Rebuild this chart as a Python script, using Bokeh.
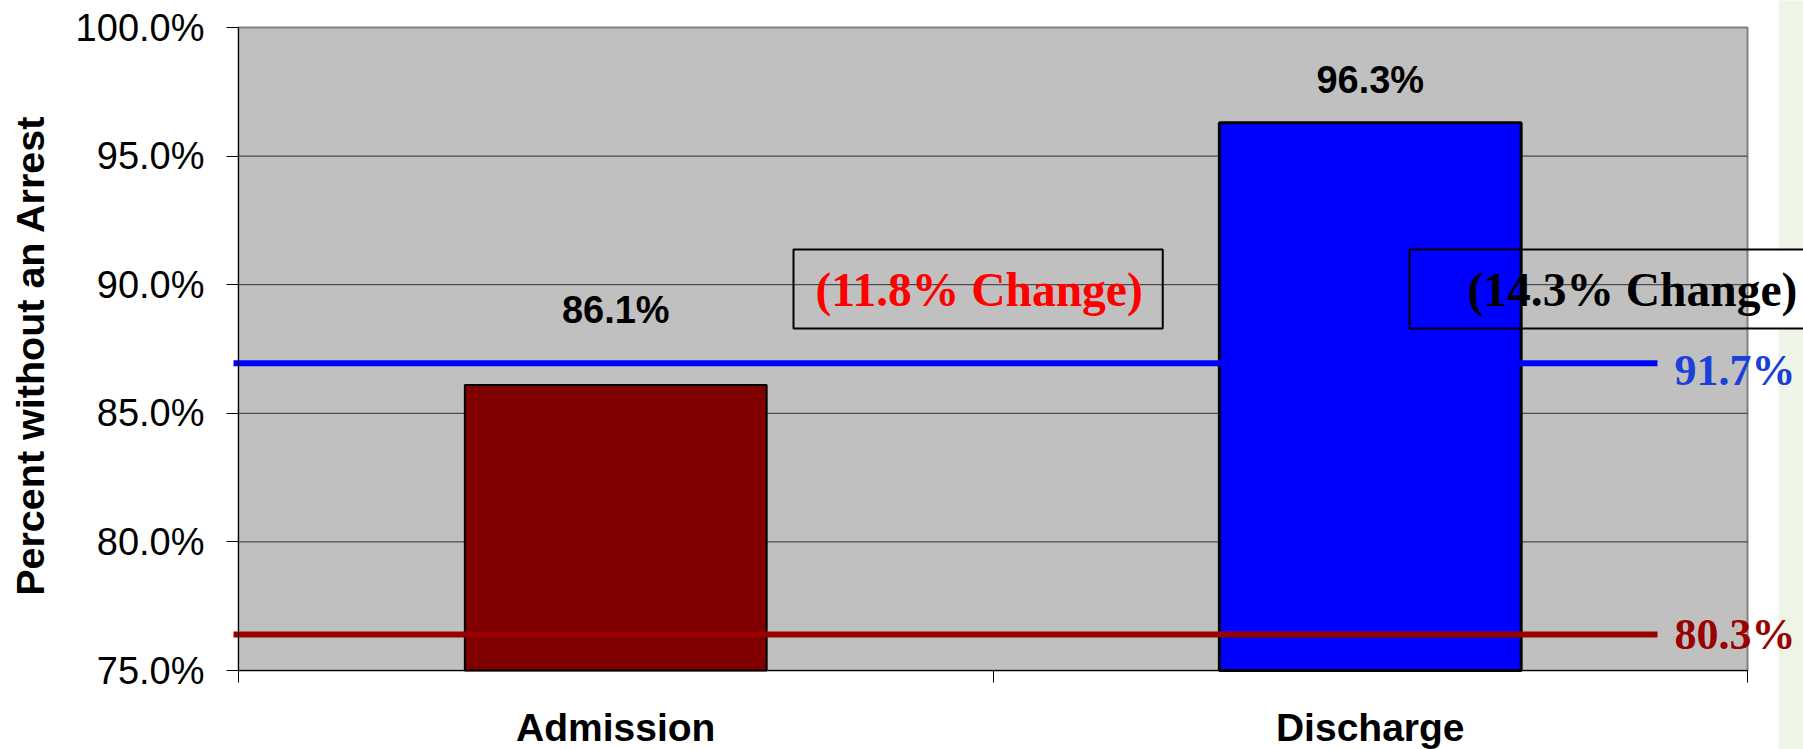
import math
from bokeh.plotting import figure
from bokeh.models import (Range1d, FixedTicker, PrintfTickFormatter, Label,
                          ColumnDataSource)
from bokeh.embed import file_html
from bokeh.resources import INLINE
from bokeh.core.properties import value

# ---------------- data ----------------
categories = ["Admission", "Discharge"]
pct_without_arrest = [86.1, 96.3]
bar_value_labels = ["86.1%", "96.3%"]
reference_levels = [86.95, 76.4]
reference_labels = ["91.7%", "80.3%"]
change_labels = ["(11.8% Change)", "(14.3% Change)"]
y_tick_values = [75, 80, 85, 90, 95, 100]
y_grid_values = [80, 85, 90, 95]
y_axis_title = "Percent without an Arrest"

# ---------------- styles / layout ----------------
BAR_COLORS = ["#800000", "#0000FF"]
BAR_LINE_WIDTHS = [2, 3]
REF_LINE_COLORS = ["#0000FF", "#990000"]
REF_TEXT_COLORS = ["#1A40D8", "#990000"]
CHANGE_COLORS = ["#FF0000", "#000000"]
SANS = "Liberation Sans"
SERIF = "Liberation Serif"

W, H = 1803, 749
PL, PT, PR, PB = 238, 27, 1747, 670      # plot-area edges in pixels
Y0, Y1 = 75, 100
X0, X1 = 0, len(categories)
ppx = (PR - PL) / (X1 - X0)
ppy = (PB - PT) / (Y1 - Y0)


def dx(fx):
    return X0 + (fx - PL) / ppx


def dy(fy):
    return Y1 - (fy - PT) / ppy


p = figure(width=W, height=H, output_backend="svg", toolbar_location=None,
           x_range=Range1d(dx(0), dx(W)), y_range=Range1d(dy(H), dy(0)),
           min_border_left=0, min_border_top=0,
           min_border_right=0, min_border_bottom=0)

p.background_fill_color = "#FFFFFF"
p.border_fill_color = "#FFFFFF"
p.outline_line_color = None

# grey plot area
p.quad(left=[X0], right=[X1], bottom=[Y0], top=[Y1], level="image",
       fill_color="#C0C0C0", line_color="#808080", line_width=2)

# light green side panel (interrupted by the text box)
p.quad(left=[dx(1778)] * 2, right=[dx(W + 20)] * 2,
       bottom=[dy(249), dy(H + 20)], top=[dy(-20), dy(328)], level="image",
       fill_color="#EEF5E6", line_color=None)

# horizontal grid lines inside the plot area
p.segment(x0=[X0] * len(y_grid_values), x1=[X1] * len(y_grid_values),
          y0=y_grid_values, y1=y_grid_values, level="underlay",
          line_color="#303030", line_width=1)
p.xgrid.visible = False
p.ygrid.visible = False

# y axis drawn at x = 0
p.yaxis.fixed_location = X0
p.yaxis.ticker = FixedTicker(ticks=y_tick_values)
p.yaxis.bounds = (Y0, Y1)
p.yaxis.formatter = PrintfTickFormatter(format="%.1f%%")
p.yaxis.major_tick_out = 12
p.yaxis.major_tick_in = 0
p.yaxis.minor_tick_line_color = None
p.yaxis.major_tick_line_color = "#000000"
p.yaxis.axis_line_color = "#000000"
p.yaxis.major_label_text_font = SANS
p.yaxis.major_label_text_font_size = "38px"
p.yaxis.major_label_text_color = "#000000"
p.yaxis.major_label_standoff = 22

# x axis drawn at y = 75, ticks at category boundaries, labels at centres
centres = [i + 0.5 for i in range(len(categories))]
p.xaxis.fixed_location = Y0
p.xaxis.bounds = (X0, X1)
p.xaxis.ticker = FixedTicker(ticks=centres, minor_ticks=list(range(X0, X1 + 1)))
p.xaxis.major_label_overrides = {c: cat for c, cat in zip(centres, categories)}
p.xaxis.major_tick_out = 0
p.xaxis.major_tick_in = 0
p.xaxis.minor_tick_out = 12
p.xaxis.minor_tick_in = 0
p.xaxis.minor_tick_line_color = "#000000"
p.xaxis.axis_line_color = "#000000"
p.xaxis.major_label_text_font = SANS
p.xaxis.major_label_text_font_style = "bold"
p.xaxis.major_label_text_font_size = "39px"
p.xaxis.major_label_text_color = "#000000"
p.xaxis.major_label_standoff = 23

# y axis title
p.add_layout(Label(x=dx(29), y=dy(355), text=y_axis_title, angle=math.pi / 2,
                   text_font=SANS, text_font_style="bold", text_font_size="39.5px",
                   text_color="#000000", text_align="center", text_baseline="middle"))

# bars
src = ColumnDataSource(dict(
    x=centres,
    top=pct_without_arrest,
    label=bar_value_labels,
    color=BAR_COLORS,
    lw=BAR_LINE_WIDTHS,
    yoff=[-75, -43],
))
p.vbar(x="x", top="top", bottom=Y0, width=0.4, source=src,
       fill_color="color", line_color="#000000", line_width="lw")
p.text(x="x", y="top", text="label", y_offset="yoff", source=src,
       text_font=value(SANS), text_font_style="bold", text_font_size="38px",
       text_color="#000000", text_align="center", text_baseline="middle")

# reference lines and labels
ref_label_centre = [370, 634]
for lvl, lab, lc, tc, fy in zip(reference_levels, reference_labels,
                                 REF_LINE_COLORS, REF_TEXT_COLORS, ref_label_centre):
    p.segment(x0=[dx(233)], y0=[lvl], x1=[dx(1657)], y1=[lvl],
              line_color=lc, line_width=6)
    p.add_layout(Label(x=dx(1674), y=dy(fy), text=lab,
                       text_font=SERIF, text_font_style="bold", text_font_size="44px",
                       text_color=tc, text_align="left", text_baseline="middle"))

# change boxes
change_pos = [(793, 288.5, dict(left=22, right=20, top=14, bottom=13)),
              (1409, 288.5, dict(left=58, right=40, top=14, bottom=13))]
for lab, col, (fx, fy, pad) in zip(change_labels, CHANGE_COLORS, change_pos):
    p.add_layout(Label(x=dx(fx), y=dy(fy), text=lab,
                       text_font=SERIF, text_font_style="bold", text_font_size="47.5px",
                       text_color=col, text_align="left", text_baseline="middle",
                       padding=pad, border_line_color="#000000", border_line_width=2,
                       background_fill_color=None))

open("out.html", "w").write(file_html(p, INLINE))
